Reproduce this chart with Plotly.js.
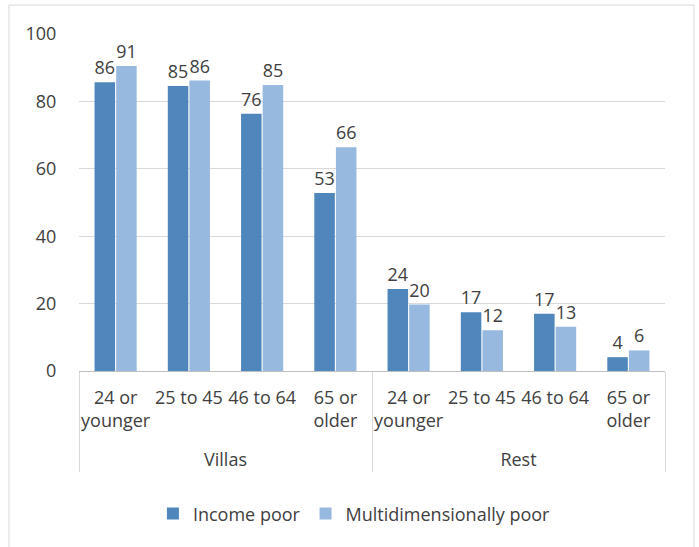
<!DOCTYPE html>
<html>
<head>
<meta charset="utf-8">
<script src="https://cdn.plot.ly/plotly-3.0.1.min.js"></script>
<style>html,body{margin:0;padding:0;background:#fff;}#chart{width:699px;height:547px;}</style>
</head>
<body>
<div id="chart"></div>
<script>
const groups = ["<br>Villas","<br>Villas","<br>Villas","<br>Villas","<br>Rest","<br>Rest","<br>Rest","<br>Rest"];
const ageGroups = ["24 or<br>younger","25 to 45","46 to 64","65 or<br>older","24 or<br>younger","25 to 45","46 to 64","65 or<br>older"];
const incomePoor = [85.7, 84.6, 76.3, 52.8, 24.3, 17.4, 17.0, 4.1];
const multiPoor = [90.5, 86.2, 84.9, 66.4, 19.7, 12.1, 13.1, 6.1];
const seriesNames = ["Income poor", "Multidimensionally poor"];

const fontFam = "Open Sans, Liberation Sans, sans-serif";
const txtColor = "#404040";
const fs = 18;

const traces = [
  {type:"bar", name:seriesNames[0], x:[groups, ageGroups], y:incomePoor,
   marker:{color:"#4F87BC"}, texttemplate:"%{y:.0f}", textposition:"outside",
   textfont:{family:fontFam, size:fs, color:txtColor}, cliponaxis:false, hoverinfo:"none"},
  {type:"bar", name:seriesNames[1], x:[groups, ageGroups], y:multiPoor,
   marker:{color:"#98B9DF"}, texttemplate:"%{y:.0f}", textposition:"outside",
   textfont:{family:fontFam, size:fs, color:txtColor}, cliponaxis:false, hoverinfo:"none"}
];

const layout = {
  width:699, height:547,
  margin:{l:79, r:34, t:34, b:176},
  paper_bgcolor:"#fff", plot_bgcolor:"#fff",
  font:{family:fontFam, size:fs, color:txtColor},
  barmode:"group", bargap:0.41, bargroupgap:0.05,
  showlegend:true,
  legend:{orientation:"h", x:0.47, xanchor:"center", y:-0.424, yanchor:"middle",
          font:{family:fontFam, size:fs, color:txtColor}, itemclick:false},
  xaxis:{type:"multicategory", showline:true, linecolor:"#bfbfbf", linewidth:1,
         showdividers:true, dividercolor:"#d9d9d9", dividerwidth:1, tickangle:0,
         tickfont:{family:fontFam, size:fs, color:txtColor}, ticklabelstandoff:10,
         ticks:"", showgrid:false},
  yaxis:{range:[0,100], tickvals:[0,20,40,60,80,100], showgrid:true, gridcolor:"#d9d9d9",
         gridwidth:1, zeroline:false, showline:false, ticks:"outside", ticklen:18,
         tickcolor:"rgba(0,0,0,0)", tickfont:{family:fontFam, size:fs, color:txtColor}},
  shapes:[{type:"rect", xref:"paper", yref:"paper", x0:-0.1195, x1:1.0495, y0:-0.53, y1:1.086,
           line:{color:"#d9d9d9", width:1}, fillcolor:"rgba(0,0,0,0)", layer:"below"}]
};

Plotly.newPlot("chart", traces, layout, {displayModeBar:false, staticPlot:true});
</script>
</body>
</html>
